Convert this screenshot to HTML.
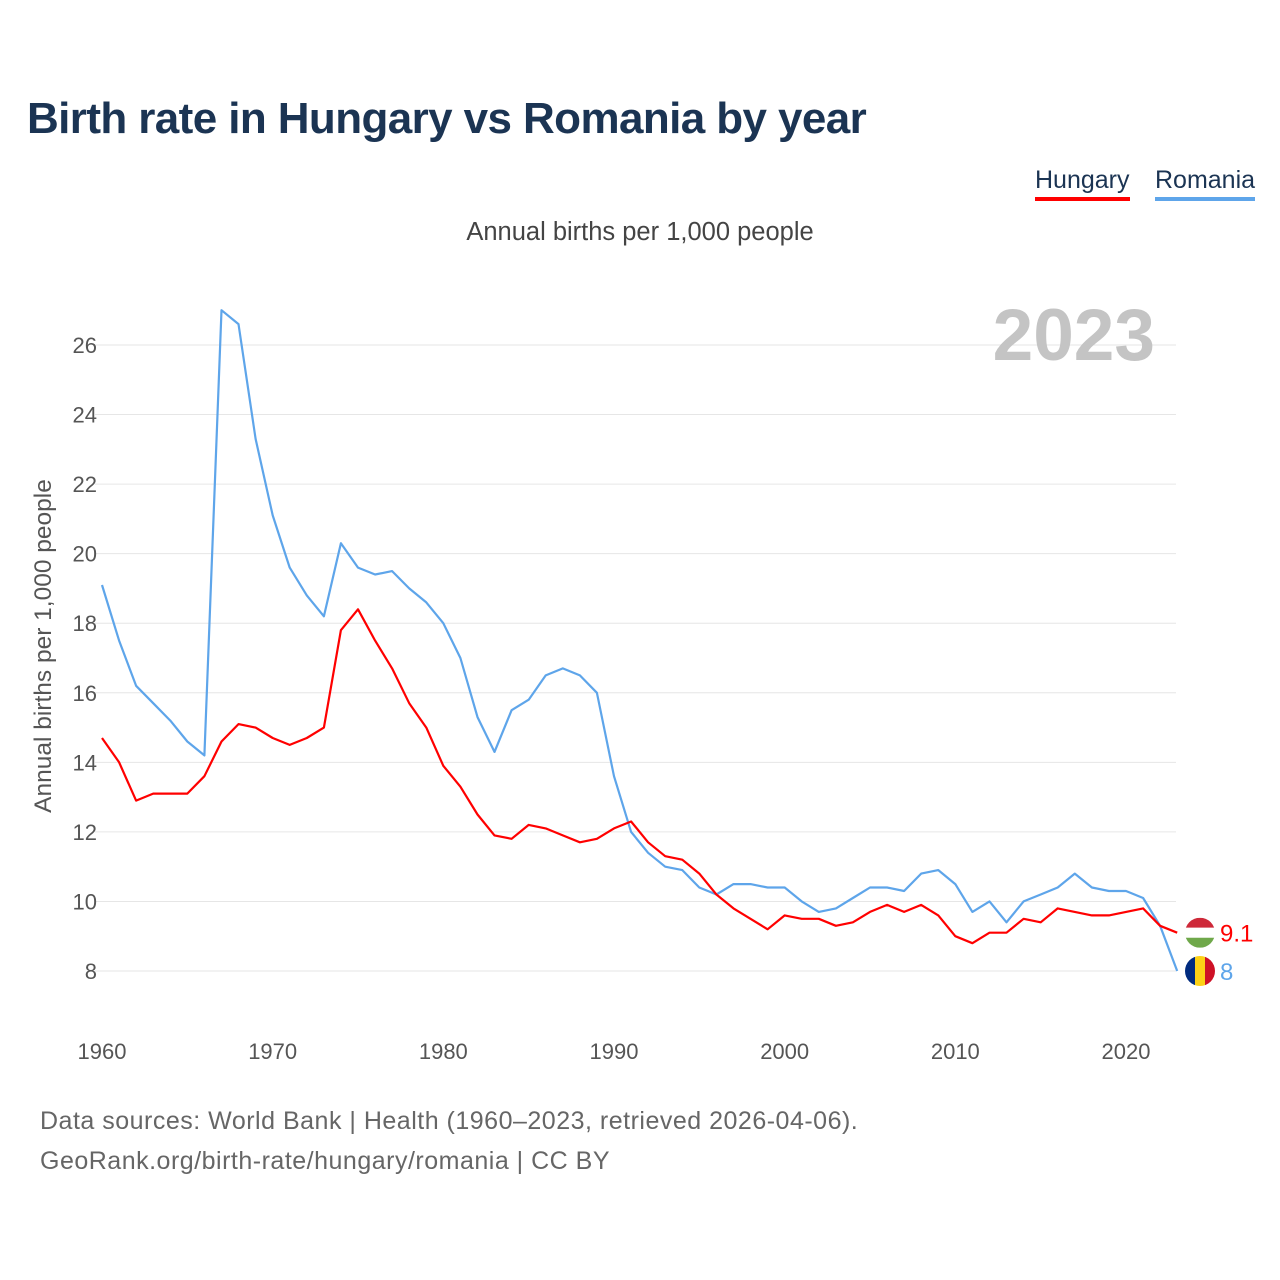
<!DOCTYPE html>
<html><head><meta charset="utf-8">
<style>
body{margin:0;background:#fff;font-family:"Liberation Sans",sans-serif;}
#wrap{position:relative;width:1280px;height:1280px;overflow:hidden;}
h1{position:absolute;left:27px;top:94px;margin:0;font-size:44px;font-weight:bold;color:#1b3453;letter-spacing:-0.6px;}
.leg{position:absolute;top:166px;font-size:25px;color:#1b3453;padding-bottom:2px;}
.src{position:absolute;left:40px;font-size:25px;color:#666;letter-spacing:0.5px;}
</style></head><body>
<div id="wrap">
<h1>Birth rate in Hungary vs Romania by year</h1>
<div class="leg" style="left:1035px;border-bottom:4px solid #ff0000">Hungary</div>
<div class="leg" style="left:1155px;border-bottom:4px solid #5ea5ea">Romania</div>
<div class="src" style="top:1107px">Data sources: World Bank | Health (1960–2023, retrieved 2026-04-06).</div>
<div class="src" style="top:1147px">GeoRank.org/birth-rate/hungary/romania | CC BY</div>
<svg id="svg" width="1280" height="1280" style="position:absolute;left:0;top:0"></svg>
</div>
<script>
const years=[];for(let y=1960;y<=2023;y++)years.push(y);
const hungary=[14.7,14.0,12.9,13.1,13.1,13.1,13.6,14.6,15.1,15.0,14.7,14.5,14.7,15.0,17.8,18.4,17.5,16.7,15.7,15.0,13.9,13.3,12.5,11.9,11.8,12.2,12.1,11.9,11.7,11.8,12.1,12.3,11.7,11.3,11.2,10.8,10.2,9.8,9.5,9.2,9.6,9.5,9.5,9.3,9.4,9.7,9.9,9.7,9.9,9.6,9.0,8.8,9.1,9.1,9.5,9.4,9.8,9.7,9.6,9.6,9.7,9.8,9.3,9.1];
const romania=[19.1,17.5,16.2,15.7,15.2,14.6,14.2,27.0,26.6,23.3,21.1,19.6,18.8,18.2,20.3,19.6,19.4,19.5,19.0,18.6,18.0,17.0,15.3,14.3,15.5,15.8,16.5,16.7,16.5,16.0,13.6,12.0,11.4,11.0,10.9,10.4,10.2,10.5,10.5,10.4,10.4,10.0,9.7,9.8,10.1,10.4,10.4,10.3,10.8,10.9,10.5,9.7,10.0,9.4,10.0,10.2,10.4,10.8,10.4,10.3,10.3,10.1,9.3,8.0];
const yTicks=[8,10,12,14,16,18,20,22,24,26];
const xTicks=[1960,1970,1980,1990,2000,2010,2020];
const NS="http://www.w3.org/2000/svg";
const svg=document.getElementById('svg');
const X=y=>102+(y-1960)*(1024/60);
const Y=v=>971-(v-8)*(626/18);
function el(t,a,txt){const e=document.createElementNS(NS,t);for(const k in a)e.setAttribute(k,a[k]);if(txt!=null)e.textContent=txt;svg.appendChild(e);return e;}
yTicks.forEach(v=>{
 const l=el('line',{x1:95,x2:1176,y1:Y(v),y2:Y(v),stroke:'#e6e6e6','stroke-width':1});
 
 
 const t=el('text',{x:97,y:Y(v)+8,'text-anchor':'end','font-size':22,fill:'#555','font-family':'Liberation Sans, sans-serif'},v);
 
 
});
xTicks.forEach(v=>{
 const t=el('text',{x:X(v),y:1059,'text-anchor':'middle','font-size':22,fill:'#555','font-family':'Liberation Sans, sans-serif'},v);
 
 
});
const st=el('text',{x:640,y:240,'text-anchor':'middle','font-size':25.5,fill:'#444','font-family':'Liberation Sans, sans-serif'},'Annual births per 1,000 people');


const yt=el('text',{x:0,y:0,transform:'translate(51,646) rotate(-90)','text-anchor':'middle','font-size':24.5,fill:'#555','font-family':'Liberation Sans, sans-serif'},'Annual births per 1,000 people');


const yr=el('text',{x:1155,y:360,'text-anchor':'end','font-size':73,'font-weight':'bold',fill:'#c4c4c4','font-family':'Liberation Sans, sans-serif'},'2023');


function line(data,color,name){
 const d=data.map((v,i)=>(i?'L':'M')+X(years[i]).toFixed(1)+','+Y(v).toFixed(1)).join('');
 const p=el('path',{d:d,fill:'none',stroke:color,'stroke-width':2.2,'stroke-linejoin':'round'});
 
 
}
line(romania,'#5ea5ea','romania-line');
line(hungary,'#ff0000','hungary-line');
const hx=1200,hy=Y(hungary[hungary.length-1]),ry=Y(romania[romania.length-1]);
const defs=el('defs',{});
defs.innerHTML='<clipPath id="ch"><circle cx="'+hx+'" cy="'+hy+'" r="15"/></clipPath><clipPath id="cr"><circle cx="'+hx+'" cy="'+ry+'" r="15"/></clipPath>';
const g1=el('g',{'clip-path':'url(#ch)'});


g1.innerHTML='<rect x="'+(hx-15)+'" y="'+(hy-15)+'" width="30" height="10" fill="#ce2939"/><rect x="'+(hx-15)+'" y="'+(hy-5)+'" width="30" height="10" fill="#fff"/><rect x="'+(hx-15)+'" y="'+(hy+5)+'" width="30" height="10" fill="#6fa84a"/>';
const g2=el('g',{'clip-path':'url(#cr)'});


g2.innerHTML='<rect x="'+(hx-15)+'" y="'+(ry-15)+'" width="10" height="30" fill="#002b7f"/><rect x="'+(hx-5)+'" y="'+(ry-15)+'" width="10" height="30" fill="#fcd116"/><rect x="'+(hx+5)+'" y="'+(ry-15)+'" width="10" height="30" fill="#ce1126"/>';
const l1=el('text',{x:1220,y:hy+9,'font-size':24,fill:'#ff0000','font-family':'Liberation Sans, sans-serif'},String(hungary[hungary.length-1]));


const l2=el('text',{x:1220,y:ry+9,'font-size':24,fill:'#5ea5ea','font-family':'Liberation Sans, sans-serif'},String(romania[romania.length-1]));


</script>
</body></html>
